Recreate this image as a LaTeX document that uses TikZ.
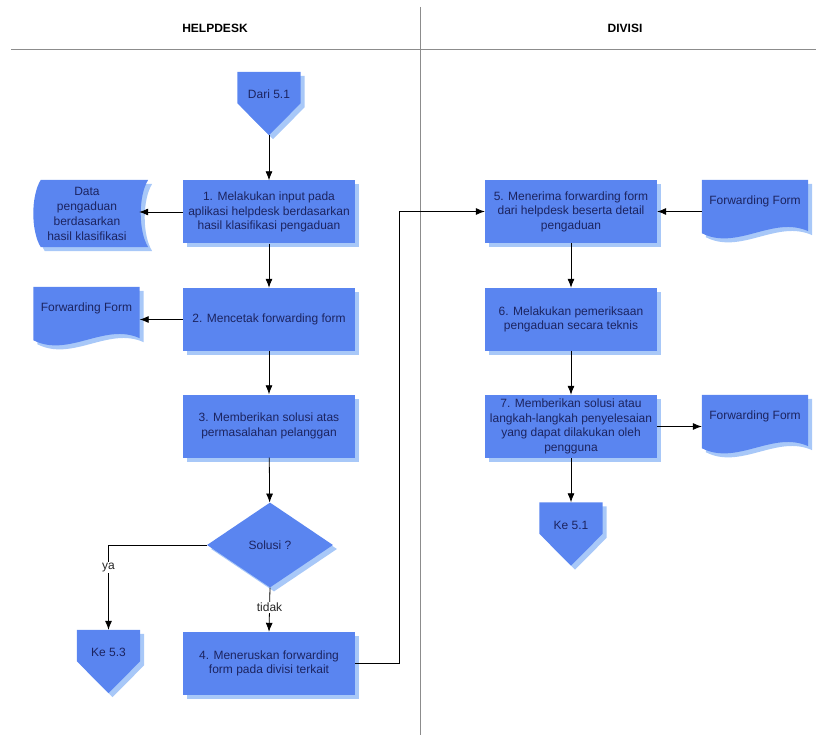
\documentclass[tikz,border=0pt]{standalone}
\usepackage{fontspec}
\setmainfont{Liberation Sans}
\usetikzlibrary{shapes.geometric,shadows,arrows.meta,backgrounds}
\definecolor{procblue}{RGB}{90,133,240}
\definecolor{shadeblue}{RGB}{168,200,248}
\definecolor{inkblue}{RGB}{28,36,96}
\definecolor{lanegray}{RGB}{140,140,140}

\begin{document}
\begin{tikzpicture}[x=1pt, y=-1pt,
  font=\fontsize{12}{14.5}\selectfont,
  dropshade/.style={drop shadow={shadow xshift=4pt, shadow yshift=-4pt, fill=shadeblue, opacity=1}},
  proc/.style={rectangle, fill=procblue, dropshade, text=inkblue, align=center, inner sep=2pt, minimum width=172pt, minimum height=63pt},
  offpage/.style={rectangle, text=inkblue, minimum width=63pt, minimum height=63pt, inner sep=2pt, text depth=18pt},
  doc/.style={rectangle, text=inkblue, minimum width=106pt, minimum height=53pt, inner sep=2pt, text depth=12pt},
  decision/.style={diamond, aspect=1.48, fill=procblue, dropshade, text=inkblue, minimum width=126pt, minimum height=85pt, inner sep=0pt},
  arr/.style={-{Latex[length=9pt,width=7pt]}, line width=0.8pt},
  lbl/.style={fill=white, inner sep=1pt, text=black!85}]
  \useasboundingbox (0,0) rectangle (816,735);

  % Swimlanes
  \draw[lanegray, line width=1pt] (11,50) -- (816,50);
  \draw[lanegray, line width=1pt] (420,7) -- (420,735);
  \node[font=\fontsize{12}{14}\selectfont\bfseries] (hlp) at (215,28) {HELPDESK};
  \node[font=\fontsize{12}{14}\selectfont\bfseries] (div) at (625,28) {DIVISI};

  % Helpdesk lane
  \node[offpage] (dari) at (269,103.5) {Dari 5.1};
  \node[proc] (p1) at (269,212) {1. Melakukan input pada\\aplikasi helpdesk berdasarkan\\hasil klasifikasi pengaduan};
  \node[align=center, text=inkblue, minimum width=104pt, minimum height=67pt, inner sep=0pt,
    font=\fontsize{12}{15}\selectfont] (dat) at (87,213.5) {Data\\pengaduan\\berdasarkan\\hasil klasifikasi};
  \node[proc] (p2) at (269,319.5) {2. Mencetak forwarding form};
  \node[doc] (f1) at (86.5,313.5) {Forwarding Form};
  \node[proc] (p3) at (269,426) {3. Memberikan solusi atas\\permasalahan pelanggan};
  \node[decision] (sol) at (270,545) {Solusi ?};
  \node[offpage] (ke53) at (108.5,661.5) {Ke 5.3};
  \node[proc] (p4) at (269,663.5) {4. Meneruskan forwarding\\form pada divisi terkait};

  % Divisi lane
  \node[proc] (p5) at (571,211.5) {5. Menerima forwarding form\\dari helpdesk beserta detail\\pengaduan};
  \node[doc] (f2) at (755,206.5) {Forwarding Form};
  \node[proc] (p6) at (571,319.5) {6. Melakukan pemeriksaan\\pengaduan secara teknis};
  \node[proc] (p7) at (571,426.5) {7. Memberikan solusi atau\\langkah-langkah penyelesaian\\yang dapat dilakukan oleh\\pengguna};
  \node[doc] (f3) at (755,421.5) {Forwarding Form};
  \node[offpage] (ke51) at (571,534) {Ke 5.1};

  % Outlines behind the texts
  \begin{scope}[on background layer]
    % data store
    \fill[procblue, dropshade] ([xshift=6pt]dat.north west) -- ([xshift=9pt]dat.north east)
      .. controls ([xshift=-1pt,yshift=-16pt]dat.north east) and ([xshift=-1pt,yshift=16pt]dat.south east) .. ([xshift=9pt]dat.south east)
      -- ([xshift=6pt]dat.south west)
      .. controls ([xshift=-4pt,yshift=16pt]dat.south west) and ([xshift=-4pt,yshift=-16pt]dat.north west) .. cycle;
    % documents
    \foreach \d in {f1,f2,f3}
      \fill[procblue, dropshade] (\d.north west) -- (\d.north east) -- ([yshift=2pt]\d.south east)
        .. controls ([xshift=-35pt,yshift=18pt]\d.south east) and ([xshift=35pt,yshift=-18pt]\d.south west) .. (\d.south west) -- cycle;
    % off-page connectors
    \foreach \c in {dari,ke53,ke51}
      \fill[procblue, dropshade] (\c.north west) -- (\c.north east) -- ([yshift=32pt]\c.south east)
        -- (\c.south) -- ([yshift=32pt]\c.south west) -- cycle;
  \end{scope}

  % Flow
  \draw[arr] (dari) -- (p1);
  \draw[arr] (p1) -- (p2);
  \draw[arr] (p2) -- (p3);
  \draw[arr] (p3) -- (sol);
  \draw[arr] (p1.west) -- (p1.west -| dat.east);
  \draw[arr] (p2.west) -- (p2.west -| f1.east);
  \draw[arr] (sol.west) -| node[lbl, pos=0.63] {ya} (ke53.north);
  \draw[arr] (sol.south) -- node[lbl, pos=0.45] {tidak} (p4.north);
  \draw[arr] (p4.east) -- ++(44,0) |- (p5.west);
  \draw[arr] (f2.west |- p5.east) -- (p5.east);
  \draw[arr] (p5) -- (p6);
  \draw[arr] (p6) -- (p7);
  \draw[arr] (p7) -- (ke51);
  \draw[arr] (p7.east) -- (p7.east -| f3.west);
\end{tikzpicture}
\end{document}
